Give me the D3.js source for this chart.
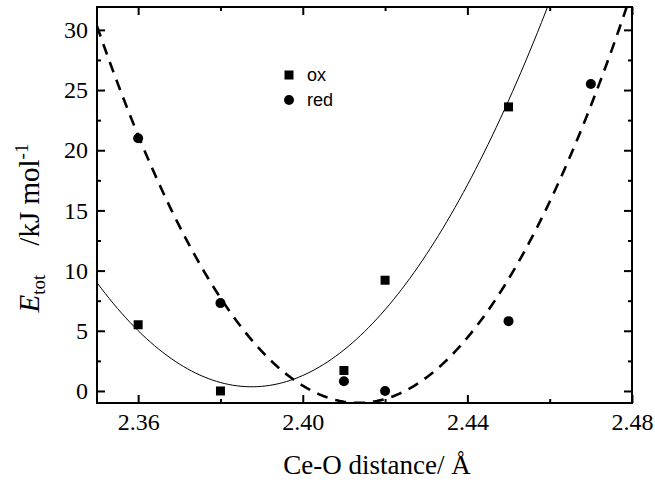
<!DOCTYPE html>
<html>
<head>
<meta charset="utf-8">
<script src="https://cdn.jsdelivr.net/npm/d3@7"></script>
<style>
  body { margin: 0; background: #fff; }
  svg text { fill: #000; }
</style>
</head>
<body>
<div id="chart"></div>
<script>
// data
var oxDistance = [2.36, 2.38, 2.41, 2.42, 2.45];
var oxEnergy = [5.5, 0.0, 1.7, 9.2, 23.6];
var redDistance = [2.36, 2.38, 2.41, 2.42, 2.45, 2.47];
var redEnergy = [21.0, 7.3, 0.8, 0.0, 5.8, 25.5];
var xTickValues = [2.36, 2.40, 2.44, 2.48];
var yTickValues = [0, 5, 10, 15, 20, 25, 30];
var legendLabels = ["ox", "red"];

var width = 655, height = 483;
var plotLeft = 97, plotRight = 632, plotTop = 7, plotBottom = 403;

var svg = d3.select("#chart").append("svg")
            .attr("width", width)
            .attr("height", height);

var x = d3.scaleLinear().domain([2.35, 2.48]).range([plotLeft, plotRight]);
var y = d3.scaleLinear().domain([-1, 31.9]).range([plotBottom, plotTop]);

// quadratic least-squares fit (as in the original figure)
function quadFit(xs, ys) {
  var x0 = 2.40;
  var S = [0, 0, 0, 0, 0], T = [0, 0, 0];
  xs.forEach(function (xv, i) {
    var u = xv - x0, p = 1;
    for (var k = 0; k < 5; k++) { S[k] += p; if (k < 3) T[k] += p * ys[i]; p *= u; }
  });
  var A = [[S[0], S[1], S[2], T[0]],
           [S[1], S[2], S[3], T[1]],
           [S[2], S[3], S[4], T[2]]];
  for (var c = 0; c < 3; c++) {
    for (var r = c + 1; r < 3; r++) {
      var f = A[r][c] / A[c][c];
      for (var k = c; k < 4; k++) A[r][k] -= f * A[c][k];
    }
  }
  var b = [0, 0, 0];
  for (var r = 2; r >= 0; r--) {
    var s = A[r][3];
    for (var k = r + 1; k < 3; k++) s -= A[r][k] * b[k];
    b[r] = s / A[r][r];
  }
  return function (xv) { var u = xv - x0; return b[0] + b[1] * u + b[2] * u * u; };
}

var oxFit = quadFit(oxDistance, oxEnergy);
var redFit = quadFit(redDistance, redEnergy);
var curveX = d3.range(2.35, 2.4801, 0.001);

svg.append("clipPath").attr("id", "plotclip")
   .append("rect")
   .attr("x", plotLeft).attr("y", plotTop)
   .attr("width", plotRight - plotLeft).attr("height", plotBottom - plotTop);

var line = d3.line()
             .x(function (d) { return x(d[0]); })
             .y(function (d) { return y(d[1]); });

var plot = svg.append("g").attr("clip-path", "url(#plotclip)");

plot.append("path")
    .datum(curveX.map(function (d) { return [d, oxFit(d)]; }))
    .attr("d", line)
    .attr("fill", "none")
    .attr("stroke", "#000")
    .attr("stroke-width", 1);

plot.append("path")
    .datum(curveX.map(function (d) { return [d, redFit(d)]; }))
    .attr("d", line)
    .attr("fill", "none")
    .attr("stroke", "#000")
    .attr("stroke-width", 2.6)
    .attr("stroke-dasharray", "11,8");

// markers
svg.selectAll("rect.ox")
   .data(oxDistance)
   .enter()
   .append("rect")
   .attr("class", "ox")
   .attr("x", function (d) { return x(d) - 4.5; })
   .attr("y", function (d, i) { return y(oxEnergy[i]) - 4.5; })
   .attr("width", 9)
   .attr("height", 9)
   .style("fill", "#000");

svg.selectAll("circle.red")
   .data(redDistance)
   .enter()
   .append("circle")
   .attr("class", "red")
   .attr("cx", function (d) { return x(d); })
   .attr("cy", function (d, i) { return y(redEnergy[i]); })
   .attr("r", 5)
   .style("fill", "#000");

// axes, ticks pointing inward
var serif = "'Liberation Serif', 'Times New Roman', serif";
var xMinor = [2.38, 2.42, 2.46];
var yMinor = [2.5, 7.5, 12.5, 17.5, 22.5, 27.5];

function addAxis(axis, tx, ty, labels) {
  var g = svg.append("g").attr("transform", "translate(" + tx + "," + ty + ")").call(axis);
  g.select(".domain").remove();
  g.selectAll("line").attr("stroke", "#000").attr("stroke-width", 2);
  g.selectAll("text")
   .style("font-family", serif)
   .style("font-size", "24px")
   .style("fill", "#000");
  if (!labels) g.selectAll("text").remove();
  return g;
}

addAxis(d3.axisBottom(x).tickValues(xTickValues).tickSizeInner(-8).tickPadding(10)
          .tickFormat(d3.format(".2f")), 0, plotBottom, true);
addAxis(d3.axisBottom(x).tickValues(xMinor).tickSizeInner(-4).tickFormat(""), 0, plotBottom, false);
addAxis(d3.axisTop(x).tickValues(xTickValues).tickSizeInner(-8), 0, plotTop, false);
addAxis(d3.axisTop(x).tickValues(xMinor).tickSizeInner(-4), 0, plotTop, false);

addAxis(d3.axisLeft(y).tickValues(yTickValues).tickSizeInner(-8).tickPadding(9)
          .tickFormat(d3.format("d")), plotLeft, 0, true);
addAxis(d3.axisLeft(y).tickValues(yMinor).tickSizeInner(-4).tickFormat(""), plotLeft, 0, false);
addAxis(d3.axisRight(y).tickValues(yTickValues).tickSizeInner(-8), plotRight, 0, false);
addAxis(d3.axisRight(y).tickValues(yMinor).tickSizeInner(-4), plotRight, 0, false);

svg.append("rect")
   .attr("x", plotLeft).attr("y", plotTop)
   .attr("width", plotRight - plotLeft).attr("height", plotBottom - plotTop)
   .attr("fill", "none")
   .attr("stroke", "#000")
   .attr("stroke-width", 2);

// axis titles
svg.append("text")
   .attr("x", 377)
   .attr("y", 474)
   .attr("text-anchor", "middle")
   .style("font-family", serif)
   .style("font-size", "27px")
   .text("Ce-O distance/ Å");

var yTitle = svg.append("text")
   .attr("transform", "translate(39,228) rotate(-90)")
   .attr("text-anchor", "middle")
   .style("font-family", serif)
   .style("font-size", "29px");
yTitle.append("tspan").style("font-style", "italic").text("E");
yTitle.append("tspan").attr("dy", 6).style("font-size", "19px").text("tot");
yTitle.append("tspan").attr("dy", -6).text("\u2003/kJ mol");
yTitle.append("tspan").attr("dy", -11).style("font-size", "19px").text("-1");

// legend
var legend = svg.append("g").attr("transform", "translate(289,75)");
legend.append("rect").attr("x", -4.5).attr("y", -4.5).attr("width", 9).attr("height", 9).style("fill", "#000");
legend.append("circle").attr("cx", 0).attr("cy", 25).attr("r", 5).style("fill", "#000");
legend.selectAll("text")
      .data(legendLabels)
      .enter()
      .append("text")
      .attr("x", 18)
      .attr("y", function (d, i) { return i * 25 + 6; })
      .style("font-family", "'Liberation Sans', Arial, sans-serif")
      .style("font-size", "18px")
      .text(function (d) { return d; });
</script>
</body>
</html>
